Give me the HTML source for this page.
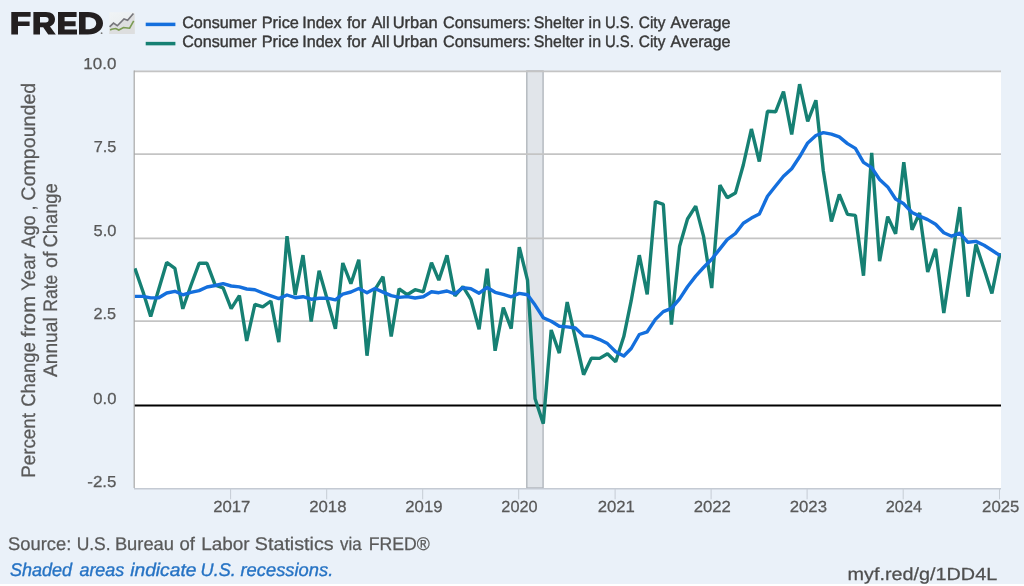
<!DOCTYPE html>
<html><head><meta charset="utf-8"><style>
html,body{margin:0;padding:0;width:1024px;height:586px;overflow:hidden;background:#eaf1f9;}
svg{display:block;will-change:transform;}
text{font-family:"Liberation Sans",sans-serif;text-rendering:geometricPrecision;}
.ax{font-size:16.5px;fill:#595959;stroke:#595959;stroke-width:0.25px;}
.lg{font-size:16.5px;fill:#333333;stroke:#333333;stroke-width:0.45px;}
</style></head><body>
<svg width="1024" height="586" viewBox="0 0 1024 586">
<rect x="0" y="0" width="1024" height="586" fill="#eaf1f9"/>
<!-- logo -->
<g fill="#231f20">
 <path d="M11.3 12 H30.6 V16.8 H18 V21.4 H29.6 V26 H18 V34.4 H11.3 Z"/>
 <path d="M33.4 12 H46 C52 12 55 15 55 19.6 C55 23 53 25.4 50 26.4 L55.8 34.4 H48.2 L43.2 27.2 H40 V34.4 H33.4 Z M40 17 V22.4 H45.6 C47.6 22.4 48.6 21.4 48.6 19.7 C48.6 18 47.6 17 45.6 17 Z"/>
 <path d="M58 12 H76.6 V17 H64.6 V21.2 H75.6 V26.2 H64.6 V29.6 H77 V34.4 H58 Z"/>
 <path d="M79 12 H88 C96.6 12 103 16.6 103 23.2 C103 29.8 96.6 34.4 88 34.4 H79 Z M85.6 17.2 V29.2 H88 C93 29.2 96.2 27 96.2 23.2 C96.2 19.4 93 17.2 88 17.2 Z"/>
 <circle cx="101.6" cy="33.2" r="0.9" fill="#777"/>
</g>
<!-- icon -->
<defs><linearGradient id="ig" x1="0" y1="0" x2="0.6" y2="1"><stop offset="0" stop-color="#f0f4f6"/><stop offset="0.5" stop-color="#ecf0f2"/><stop offset="1" stop-color="#e2e3e4"/></linearGradient>
<filter id="sb" x="-10%" y="-10%" width="120%" height="120%"><feGaussianBlur stdDeviation="0.35"/></filter></defs>
<g filter="url(#sb)">
<rect x="109.2" y="12.2" width="25.5" height="21.8" fill="url(#ig)"/>
<polygon points="109.6,26.9 113.5,23.1 117.3,25.7 124,19 127.6,20.3 133.4,13.4 134.7,13.4 134.7,34 109.2,34" fill="#dddedf"/>
<polyline points="109.6,26.9 113.5,23.1 117.3,25.7 124,19 127.6,20.3 133.4,13.4" fill="none" stroke="#76767b" stroke-width="1.6"/>
<polyline points="110.1,30 111.7,29.2 115.8,28.5 118.8,30 123.5,27.5 127.6,28 129.6,28.2 133.7,20.8" fill="none" stroke="#7a9b52" stroke-width="1.6"/>
</g>
<!-- legend -->
<line x1="145.7" y1="24.4" x2="175.4" y2="24.4" stroke="#146fdd" stroke-width="3.5"/>
<line x1="145.7" y1="43.6" x2="175.4" y2="43.6" stroke="#168073" stroke-width="3.5"/>
<text x="182.20" y="27.5" font-size="16.4" font-style="normal" textLength="74.32" lengthAdjust="spacingAndGlyphs" fill="#383838" stroke="#383838" stroke-width="0.4">Consumer</text>
<text x="261.70" y="27.5" font-size="16.4" font-style="normal" textLength="37.24" lengthAdjust="spacingAndGlyphs" fill="#383838" stroke="#383838" stroke-width="0.4">Price</text>
<text x="302.22" y="27.5" font-size="16.4" font-style="normal" textLength="39.41" lengthAdjust="spacingAndGlyphs" fill="#383838" stroke="#383838" stroke-width="0.4">Index</text>
<text x="346.90" y="27.5" font-size="16.4" font-style="normal" textLength="19.33" lengthAdjust="spacingAndGlyphs" fill="#383838" stroke="#383838" stroke-width="0.4">for</text>
<text x="371.70" y="27.5" font-size="16.4" font-style="normal" textLength="17.81" lengthAdjust="spacingAndGlyphs" fill="#383838" stroke="#383838" stroke-width="0.4">All</text>
<text x="392.70" y="27.5" font-size="16.4" font-style="normal" textLength="44.86" lengthAdjust="spacingAndGlyphs" fill="#383838" stroke="#383838" stroke-width="0.4">Urban</text>
<text x="442.90" y="27.5" font-size="16.4" font-style="normal" textLength="87.75" lengthAdjust="spacingAndGlyphs" fill="#383838" stroke="#383838" stroke-width="0.4">Consumers:</text>
<text x="533.70" y="27.5" font-size="16.4" font-style="normal" textLength="50.24" lengthAdjust="spacingAndGlyphs" fill="#383838" stroke="#383838" stroke-width="0.4">Shelter</text>
<text x="588.60" y="27.5" font-size="16.4" font-style="normal" textLength="12.45" lengthAdjust="spacingAndGlyphs" fill="#383838" stroke="#383838" stroke-width="0.4">in</text>
<text x="604.89" y="27.5" font-size="16.4" font-style="normal" textLength="28.91" lengthAdjust="spacingAndGlyphs" fill="#383838" stroke="#383838" stroke-width="0.4">U.S.</text>
<text x="638.80" y="27.5" font-size="16.4" font-style="normal" textLength="26.58" lengthAdjust="spacingAndGlyphs" fill="#383838" stroke="#383838" stroke-width="0.4">City</text>
<text x="670.60" y="27.5" font-size="16.4" font-style="normal" textLength="59.97" lengthAdjust="spacingAndGlyphs" fill="#383838" stroke="#383838" stroke-width="0.4">Average</text>
<text x="182.20" y="47.0" font-size="16.4" font-style="normal" textLength="74.32" lengthAdjust="spacingAndGlyphs" fill="#383838" stroke="#383838" stroke-width="0.4">Consumer</text>
<text x="261.70" y="47.0" font-size="16.4" font-style="normal" textLength="37.24" lengthAdjust="spacingAndGlyphs" fill="#383838" stroke="#383838" stroke-width="0.4">Price</text>
<text x="302.22" y="47.0" font-size="16.4" font-style="normal" textLength="39.41" lengthAdjust="spacingAndGlyphs" fill="#383838" stroke="#383838" stroke-width="0.4">Index</text>
<text x="346.90" y="47.0" font-size="16.4" font-style="normal" textLength="19.33" lengthAdjust="spacingAndGlyphs" fill="#383838" stroke="#383838" stroke-width="0.4">for</text>
<text x="371.70" y="47.0" font-size="16.4" font-style="normal" textLength="17.81" lengthAdjust="spacingAndGlyphs" fill="#383838" stroke="#383838" stroke-width="0.4">All</text>
<text x="392.70" y="47.0" font-size="16.4" font-style="normal" textLength="44.86" lengthAdjust="spacingAndGlyphs" fill="#383838" stroke="#383838" stroke-width="0.4">Urban</text>
<text x="442.90" y="47.0" font-size="16.4" font-style="normal" textLength="87.75" lengthAdjust="spacingAndGlyphs" fill="#383838" stroke="#383838" stroke-width="0.4">Consumers:</text>
<text x="533.70" y="47.0" font-size="16.4" font-style="normal" textLength="50.24" lengthAdjust="spacingAndGlyphs" fill="#383838" stroke="#383838" stroke-width="0.4">Shelter</text>
<text x="588.60" y="47.0" font-size="16.4" font-style="normal" textLength="12.45" lengthAdjust="spacingAndGlyphs" fill="#383838" stroke="#383838" stroke-width="0.4">in</text>
<text x="604.89" y="47.0" font-size="16.4" font-style="normal" textLength="28.91" lengthAdjust="spacingAndGlyphs" fill="#383838" stroke="#383838" stroke-width="0.4">U.S.</text>
<text x="638.80" y="47.0" font-size="16.4" font-style="normal" textLength="26.58" lengthAdjust="spacingAndGlyphs" fill="#383838" stroke="#383838" stroke-width="0.4">City</text>
<text x="670.60" y="47.0" font-size="16.4" font-style="normal" textLength="59.97" lengthAdjust="spacingAndGlyphs" fill="#383838" stroke="#383838" stroke-width="0.4">Average</text>
<!-- y title -->
<g transform="rotate(-90)">
<text x="-477.87" y="35" font-size="19.5" font-style="normal" textLength="64.90" lengthAdjust="spacingAndGlyphs" fill="#595959" stroke="#595959" stroke-width="0.25">Percent</text>
<text x="-406.74" y="35" font-size="19.5" font-style="normal" textLength="64.34" lengthAdjust="spacingAndGlyphs" fill="#595959" stroke="#595959" stroke-width="0.25">Change</text>
<text x="-337.20" y="35" font-size="19.5" font-style="normal" textLength="41.36" lengthAdjust="spacingAndGlyphs" fill="#595959" stroke="#595959" stroke-width="0.25">from</text>
<text x="-290.80" y="35" font-size="19.5" font-style="normal" textLength="37.44" lengthAdjust="spacingAndGlyphs" fill="#595959" stroke="#595959" stroke-width="0.25">Year</text>
<text x="-247.70" y="35" font-size="19.5" font-style="normal" textLength="32.36" lengthAdjust="spacingAndGlyphs" fill="#595959" stroke="#595959" stroke-width="0.25">Ago</text>
<text x="-210.43" y="35" font-size="19.5" font-style="normal" textLength="5.06" lengthAdjust="spacingAndGlyphs" fill="#595959" stroke="#595959" stroke-width="0.25">,</text>
<text x="-200.71" y="35" font-size="19.5" font-style="normal" textLength="118.01" lengthAdjust="spacingAndGlyphs" fill="#595959" stroke="#595959" stroke-width="0.25">Compounded</text>
<text x="-377.00" y="56.7" font-size="19.5" font-style="normal" textLength="59.71" lengthAdjust="spacingAndGlyphs" fill="#595959" stroke="#595959" stroke-width="0.25">Annual</text>
<text x="-311.80" y="56.7" font-size="19.5" font-style="normal" textLength="37.08" lengthAdjust="spacingAndGlyphs" fill="#595959" stroke="#595959" stroke-width="0.25">Rate</text>
<text x="-268.00" y="56.7" font-size="19.5" font-style="normal" textLength="16.36" lengthAdjust="spacingAndGlyphs" fill="#595959" stroke="#595959" stroke-width="0.25">of</text>
<text x="-247.54" y="56.7" font-size="19.5" font-style="normal" textLength="64.34" lengthAdjust="spacingAndGlyphs" fill="#595959" stroke="#595959" stroke-width="0.25">Change</text>
</g>
<!-- plot -->
<rect x="134" y="71" width="867" height="417" fill="#ffffff"/>
<rect x="526.8" y="71" width="16.3" height="417" fill="#e1e5ea" stroke="#aeb2b8" stroke-width="1.3"/>
<line x1="134" y1="71.4" x2="1001" y2="71.4" stroke="#c4c4c4" stroke-width="1.8"/>
<line x1="134" y1="154.1" x2="1001" y2="154.1" stroke="#c4c4c4" stroke-width="1.8"/>
<line x1="134" y1="238.4" x2="1001" y2="238.4" stroke="#c4c4c4" stroke-width="1.8"/>
<line x1="134" y1="321.2" x2="1001" y2="321.2" stroke="#c4c4c4" stroke-width="1.8"/>

<line x1="134" y1="405.6" x2="1001" y2="405.6" stroke="#000" stroke-width="2"/>
<line x1="134.2" y1="70.5" x2="134.2" y2="488" stroke="#a8a8a8" stroke-width="1.2"/>
<line x1="134" y1="488.8" x2="1001" y2="488.8" stroke="#c4cad3" stroke-width="1.5"/>
<text x="83.33" y="69.0" font-size="15.9" font-style="normal" textLength="33.00" lengthAdjust="spacingAndGlyphs" fill="#595959" stroke="#595959" stroke-width="0.25">10.0</text>
<text x="93.70" y="152.0" font-size="15.9" font-style="normal" textLength="22.70" lengthAdjust="spacingAndGlyphs" fill="#595959" stroke="#595959" stroke-width="0.25">7.5</text>
<text x="93.50" y="236.2" font-size="15.9" font-style="normal" textLength="22.90" lengthAdjust="spacingAndGlyphs" fill="#595959" stroke="#595959" stroke-width="0.25">5.0</text>
<text x="93.50" y="319.0" font-size="15.9" font-style="normal" textLength="22.60" lengthAdjust="spacingAndGlyphs" fill="#595959" stroke="#595959" stroke-width="0.25">2.5</text>
<text x="93.30" y="403.6" font-size="15.9" font-style="normal" textLength="23.10" lengthAdjust="spacingAndGlyphs" fill="#595959" stroke="#595959" stroke-width="0.25">0.0</text>
<text x="87.30" y="486.5" font-size="15.9" font-style="normal" textLength="29.12" lengthAdjust="spacingAndGlyphs" fill="#595959" stroke="#595959" stroke-width="0.25">-2.5</text>

<line x1="230.6" y1="488" x2="230.6" y2="499.3" stroke="#c5ccd4" stroke-width="1"/>
<text x="213.21" y="512" font-size="16.0" font-style="normal" textLength="37.22" lengthAdjust="spacingAndGlyphs" fill="#595959" stroke="#595959" stroke-width="0.25">2017</text>
<line x1="326.7" y1="488" x2="326.7" y2="499.3" stroke="#c5ccd4" stroke-width="1"/>
<text x="309.26" y="512" font-size="16.0" font-style="normal" textLength="37.22" lengthAdjust="spacingAndGlyphs" fill="#595959" stroke="#595959" stroke-width="0.25">2018</text>
<line x1="422.7" y1="488" x2="422.7" y2="499.3" stroke="#c5ccd4" stroke-width="1"/>
<text x="405.30" y="512" font-size="16.0" font-style="normal" textLength="37.22" lengthAdjust="spacingAndGlyphs" fill="#595959" stroke="#595959" stroke-width="0.25">2019</text>
<line x1="518.7" y1="488" x2="518.7" y2="499.3" stroke="#c5ccd4" stroke-width="1"/>
<text x="501.35" y="512" font-size="16.0" font-style="normal" textLength="36.19" lengthAdjust="spacingAndGlyphs" fill="#595959" stroke="#595959" stroke-width="0.25">2020</text>
<line x1="615.1" y1="488" x2="615.1" y2="499.3" stroke="#c5ccd4" stroke-width="1"/>
<text x="597.66" y="512" font-size="16.0" font-style="normal" textLength="37.22" lengthAdjust="spacingAndGlyphs" fill="#595959" stroke="#595959" stroke-width="0.25">2021</text>
<line x1="711.1" y1="488" x2="711.1" y2="499.3" stroke="#c5ccd4" stroke-width="1"/>
<text x="693.70" y="512" font-size="16.0" font-style="normal" textLength="37.22" lengthAdjust="spacingAndGlyphs" fill="#595959" stroke="#595959" stroke-width="0.25">2022</text>
<line x1="807.1" y1="488" x2="807.1" y2="499.3" stroke="#c5ccd4" stroke-width="1"/>
<text x="789.75" y="512" font-size="16.0" font-style="normal" textLength="37.22" lengthAdjust="spacingAndGlyphs" fill="#595959" stroke="#595959" stroke-width="0.25">2023</text>
<line x1="903.2" y1="488" x2="903.2" y2="499.3" stroke="#c5ccd4" stroke-width="1"/>
<text x="885.80" y="512" font-size="16.0" font-style="normal" textLength="36.19" lengthAdjust="spacingAndGlyphs" fill="#595959" stroke="#595959" stroke-width="0.25">2024</text>
<line x1="999.5" y1="488" x2="999.5" y2="499.3" stroke="#c5ccd4" stroke-width="1"/>
<text x="982.10" y="512" font-size="16.0" font-style="normal" textLength="37.22" lengthAdjust="spacingAndGlyphs" fill="#595959" stroke="#595959" stroke-width="0.25">2025</text>

<clipPath id="pc"><rect x="134" y="60" width="867" height="440"/></clipPath>
<g clip-path="url(#pc)">
<polyline points="134.9,268.4 143.1,292.0 150.7,316.5 158.8,289.0 166.7,262.4 174.9,268.3 182.8,308.8 190.9,285.5 199.1,263.3 207.0,263.3 215.2,285.1 223.1,287.8 231.2,308.6 239.4,295.6 246.7,341.0 254.9,304.3 262.8,306.9 270.9,301.0 278.8,342.1 287.0,236.2 295.2,294.9 303.0,255.2 311.2,321.6 319.1,270.7 327.3,299.6 335.4,328.7 342.8,263.0 350.9,283.7 358.8,259.7 367.0,355.7 374.9,289.7 383.0,276.7 391.2,336.5 399.1,288.8 407.2,294.7 415.1,289.7 423.3,291.8 431.5,262.7 438.8,280.2 447.0,255.4 454.9,296.0 463.0,286.7 470.9,299.3 479.1,329.3 487.2,268.6 495.1,350.8 503.3,307.6 511.2,328.6 519.3,247.1 527.5,280.1 535.1,398.8 543.3,423.6 551.2,330.0 559.3,353.1 567.2,302.1 575.4,338.5 583.6,374.7 591.4,358.1 599.6,358.4 607.5,353.7 615.7,361.7 623.8,336.6 631.2,300.7 639.3,255.2 647.2,294.4 655.4,201.5 663.3,204.3 671.4,324.6 679.6,246.3 687.5,219.0 695.7,206.1 703.5,236.1 711.7,288.0 719.9,185.1 727.2,197.7 735.4,193.1 743.3,165.0 751.4,129.0 759.3,161.5 767.5,111.3 775.6,111.8 783.5,91.6 791.7,134.4 799.6,84.2 807.7,121.5 815.9,100.3 823.3,170.7 831.4,221.5 839.3,194.4 847.5,214.4 855.4,215.4 863.5,275.7 871.7,152.9 879.6,261.2 887.7,216.6 895.6,233.8 903.8,162.2 912.0,229.9 919.6,213.0 927.7,272.0 935.6,248.9 943.8,313.1 951.7,260.0 959.8,207.1 968.0,296.7 975.9,244.4 984.1,269.0 991.9,293.4 1000.1,253.0" fill="none" stroke="#168073" stroke-width="3.4" stroke-linejoin="bevel"/>
<polyline points="134.9,296.4 143.1,296.4 150.7,297.9 158.8,297.8 166.7,293.0 174.9,291.3 182.8,294.8 190.9,292.4 199.1,290.6 207.0,287.0 215.2,285.5 223.1,283.7 231.2,286.0 239.4,286.9 246.7,289.0 254.9,289.7 262.8,293.0 270.9,295.8 278.8,298.6 287.0,295.0 295.2,297.7 303.0,296.7 311.2,299.2 319.1,298.2 327.3,298.2 335.4,299.8 342.8,294.2 350.9,292.0 358.8,288.5 367.0,292.7 374.9,288.5 383.0,292.1 391.2,295.6 399.1,297.4 407.2,296.6 415.1,298.0 423.3,296.8 431.5,291.7 438.8,292.7 447.0,291.0 454.9,293.8 463.0,287.6 470.9,288.7 479.1,293.2 487.2,287.5 495.1,292.3 503.3,294.4 511.2,296.8 519.3,293.4 527.5,294.8 535.1,305.1 543.3,317.7 551.2,321.2 559.3,326.2 567.2,326.9 575.4,328.0 583.6,335.7 591.4,336.4 599.6,339.6 607.5,343.6 615.7,351.8 623.8,356.0 631.2,348.5 639.3,334.5 647.2,331.8 655.4,319.4 663.3,311.6 671.4,308.4 679.6,298.9 687.5,286.8 695.7,276.1 703.5,267.5 711.7,259.2 719.9,248.9 727.2,239.6 735.4,233.5 743.3,223.2 751.4,218.1 759.3,214.1 767.5,196.2 775.6,186.0 783.5,176.2 791.7,168.7 799.6,156.8 807.7,142.9 815.9,135.5 823.3,132.6 831.4,134.1 839.3,136.9 847.5,143.6 855.4,148.4 863.5,162.4 871.7,167.6 879.6,179.5 887.7,186.9 895.6,199.0 903.8,203.8 912.0,212.5 919.6,216.1 927.7,219.6 935.6,224.2 943.8,232.7 951.7,236.2 959.8,233.2 968.0,242.3 975.9,241.4 984.1,245.2 991.9,250.2 1000.1,255.7" fill="none" stroke="#146fdd" stroke-width="3.4" stroke-linejoin="round"/>
</g>
<!-- footer -->
<text x="8.10" y="550" font-size="18.3" font-style="normal" textLength="63.22" lengthAdjust="spacingAndGlyphs" fill="#595959" stroke="#595959" stroke-width="0.25">Source:</text>
<text x="76.65" y="550" font-size="18.3" font-style="normal" textLength="33.95" lengthAdjust="spacingAndGlyphs" fill="#595959" stroke="#595959" stroke-width="0.25">U.S.</text>
<text x="114.90" y="550" font-size="18.3" font-style="normal" textLength="59.06" lengthAdjust="spacingAndGlyphs" fill="#595959" stroke="#595959" stroke-width="0.25">Bureau</text>
<text x="179.50" y="550" font-size="18.3" font-style="normal" textLength="15.44" lengthAdjust="spacingAndGlyphs" fill="#595959" stroke="#595959" stroke-width="0.25">of</text>
<text x="201.17" y="550" font-size="18.3" font-style="normal" textLength="48.39" lengthAdjust="spacingAndGlyphs" fill="#595959" stroke="#595959" stroke-width="0.25">Labor</text>
<text x="254.82" y="550" font-size="18.3" font-style="normal" textLength="78.85" lengthAdjust="spacingAndGlyphs" fill="#595959" stroke="#595959" stroke-width="0.25">Statistics</text>
<text x="340.00" y="550" font-size="18.3" font-style="normal" textLength="21.62" lengthAdjust="spacingAndGlyphs" fill="#595959" stroke="#595959" stroke-width="0.25">via</text>
<text x="368.73" y="550" font-size="18.3" font-style="normal" textLength="61.11" lengthAdjust="spacingAndGlyphs" fill="#595959" stroke="#595959" stroke-width="0.25">FRED®</text>
<text x="10.00" y="576" font-size="18.3" font-style="italic" textLength="62.14" lengthAdjust="spacingAndGlyphs" fill="#2673c4" stroke="#2673c4" stroke-width="0.35">Shaded</text>
<text x="79.40" y="576" font-size="18.3" font-style="italic" textLength="44.94" lengthAdjust="spacingAndGlyphs" fill="#2673c4" stroke="#2673c4" stroke-width="0.35">areas</text>
<text x="130.20" y="576" font-size="18.3" font-style="italic" textLength="66.22" lengthAdjust="spacingAndGlyphs" fill="#2673c4" stroke="#2673c4" stroke-width="0.35">indicate</text>
<text x="200.61" y="576" font-size="18.3" font-style="italic" textLength="35.13" lengthAdjust="spacingAndGlyphs" fill="#2673c4" stroke="#2673c4" stroke-width="0.35">U.S.</text>
<text x="240.50" y="576" font-size="18.3" font-style="italic" textLength="92.77" lengthAdjust="spacingAndGlyphs" fill="#2673c4" stroke="#2673c4" stroke-width="0.35">recessions.</text>
<text x="847.47" y="579.5" font-size="17.5" font-style="normal" textLength="149.75" lengthAdjust="spacingAndGlyphs" fill="#4f4f4f" stroke="#4f4f4f" stroke-width="0.25">myf.red/g/1DD4L</text>
<rect x="0" y="584" width="1024" height="2" fill="#ffffff"/>
</svg>
</body></html>
